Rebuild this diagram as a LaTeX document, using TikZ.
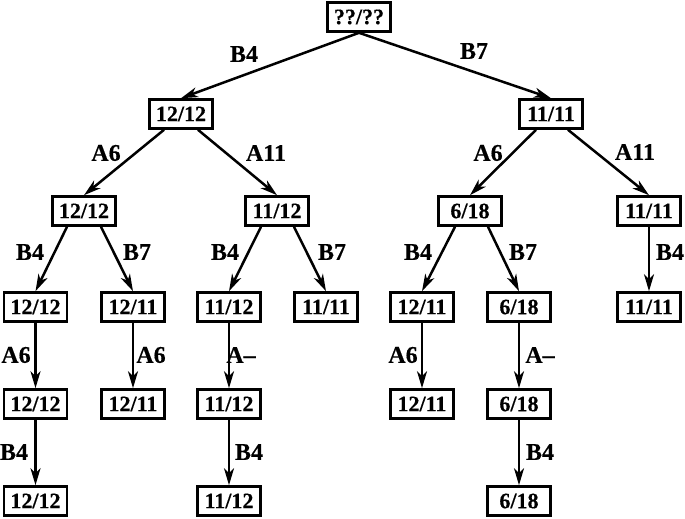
\documentclass[tikz,border=0pt]{standalone}
\usepackage{fontspec}
\setmainfont{Liberation Serif}
\newfontfamily\tbf[FakeBold=0.4]{Liberation Serif Bold}
\usetikzlibrary{arrows.meta}
\begin{document}
\begin{tikzpicture}[x=1pt,y=-1pt,
 box/.style={draw, line width=2.6pt, minimum width=63pt, minimum height=29pt, inner sep=0pt, font=\fontsize{22}{22}\selectfont\tbf},
 lbl/.style={font=\fontsize{24}{24}\selectfont\tbf, inner sep=0pt},
 arr/.style={line width=2.5pt, -{Stealth[length=17pt,width=10pt,inset=5pt]}}]
\useasboundingbox (0,0) rectangle (685,519);
% nodes
\node[box] (r) at (359,17) {??/??};
\node[box] (a) at (181,114) {12/12};
\node[box] (b) at (551,114) {11/11};
\node[box] (aa) at (84,211) {12/12};
\node[box] (ab) at (277,211) {11/12};
\node[box] (ba) at (470,211) {6/18};
\node[box] (bb) at (649,211) {11/11};
\node[box] (aaa) at (35.5,307) {12/12};
\node[box] (aab) at (133,307) {12/11};
\node[box] (aba) at (229,307) {11/12};
\node[box] (abb) at (326,307) {11/11};
\node[box] (baa) at (422,307) {12/11};
\node[box] (bab) at (519,307) {6/18};
\node[box] (bba) at (649,307) {11/11};
\node[box] (aaaa) at (35.5,404) {12/12};
\node[box] (aaba) at (133,404) {12/11};
\node[box] (abaa) at (229,404) {11/12};
\node[box] (baaa) at (422,404) {12/11};
\node[box] (baba) at (519,404) {6/18};
\node[box] (aaaaa) at (35.5,501) {12/12};
\node[box] (abaaa) at (229,501) {11/12};
\node[box] (babaa) at (519,501) {6/18};
% edges
\draw[arr] (r.south) -- (a.north);
\draw[arr] (r.south) -- (b.north);
\draw[arr] ([xshift=-17pt]a.south) -- (aa.north);
\draw[arr] ([xshift=17pt]a.south) -- (ab.north);
\draw[arr] ([xshift=-15pt]b.south) -- (ba.north);
\draw[arr] ([xshift=17pt]b.south) -- (bb.north);
\draw[arr] ([xshift=-17pt]aa.south) -- (aaa.north);
\draw[arr] ([xshift=17pt]aa.south) -- (aab.north);
\draw[arr] ([xshift=-16pt]ab.south) -- (aba.north);
\draw[arr] ([xshift=17pt]ab.south) -- (abb.north);
\draw[arr] ([xshift=-15pt]ba.south) -- (baa.north);
\draw[arr] ([xshift=18pt]ba.south) -- (bab.north);
\draw[arr] (bb.south) -- (bba.north);
\draw[arr] (aaa.south) -- (aaaa.north);
\draw[arr] (aab.south) -- (aaba.north);
\draw[arr] (aba.south) -- (abaa.north);
\draw[arr] (baa.south) -- (baaa.north);
\draw[arr] (bab.south) -- (baba.north);
\draw[arr] (aaaa.south) -- (aaaaa.north);
\draw[arr] (abaa.south) -- (abaaa.north);
\draw[arr] (baba.south) -- (babaa.north);
% labels
\node[lbl] (l1) at (244,54) {B4};
\node[lbl] (l2) at (474,51) {B7};
\node[lbl] (l3) at (106,153) {A6};
\node[lbl] (l4) at (266,153) {A11};
\node[lbl] (l5) at (488,153) {A6};
\node[lbl] (l6) at (635,152) {A11};
\node[lbl] (l7) at (30,252) {B4};
\node[lbl] (l8) at (137,252) {B7};
\node[lbl] (l9) at (225,252) {B4};
\node[lbl] (l10) at (332,252) {B7};
\node[lbl] (l11) at (418,252) {B4};
\node[lbl] (l12) at (523,252) {B7};
\node[lbl] (l13) at (670,252) {B4};
\node[lbl] (l14) at (16,355) {A6};
\node[lbl] (l15) at (151,355) {A6};
\node[lbl] (l16) at (241,355) {A–};
\node[lbl] (l17) at (403,355) {A6};
\node[lbl] (l18) at (540,355) {A–};
\node[lbl] (l19) at (14,452) {B4};
\node[lbl] (l20) at (249,452) {B4};
\node[lbl] (l21) at (540,452) {B4};
\end{tikzpicture}
\end{document}
